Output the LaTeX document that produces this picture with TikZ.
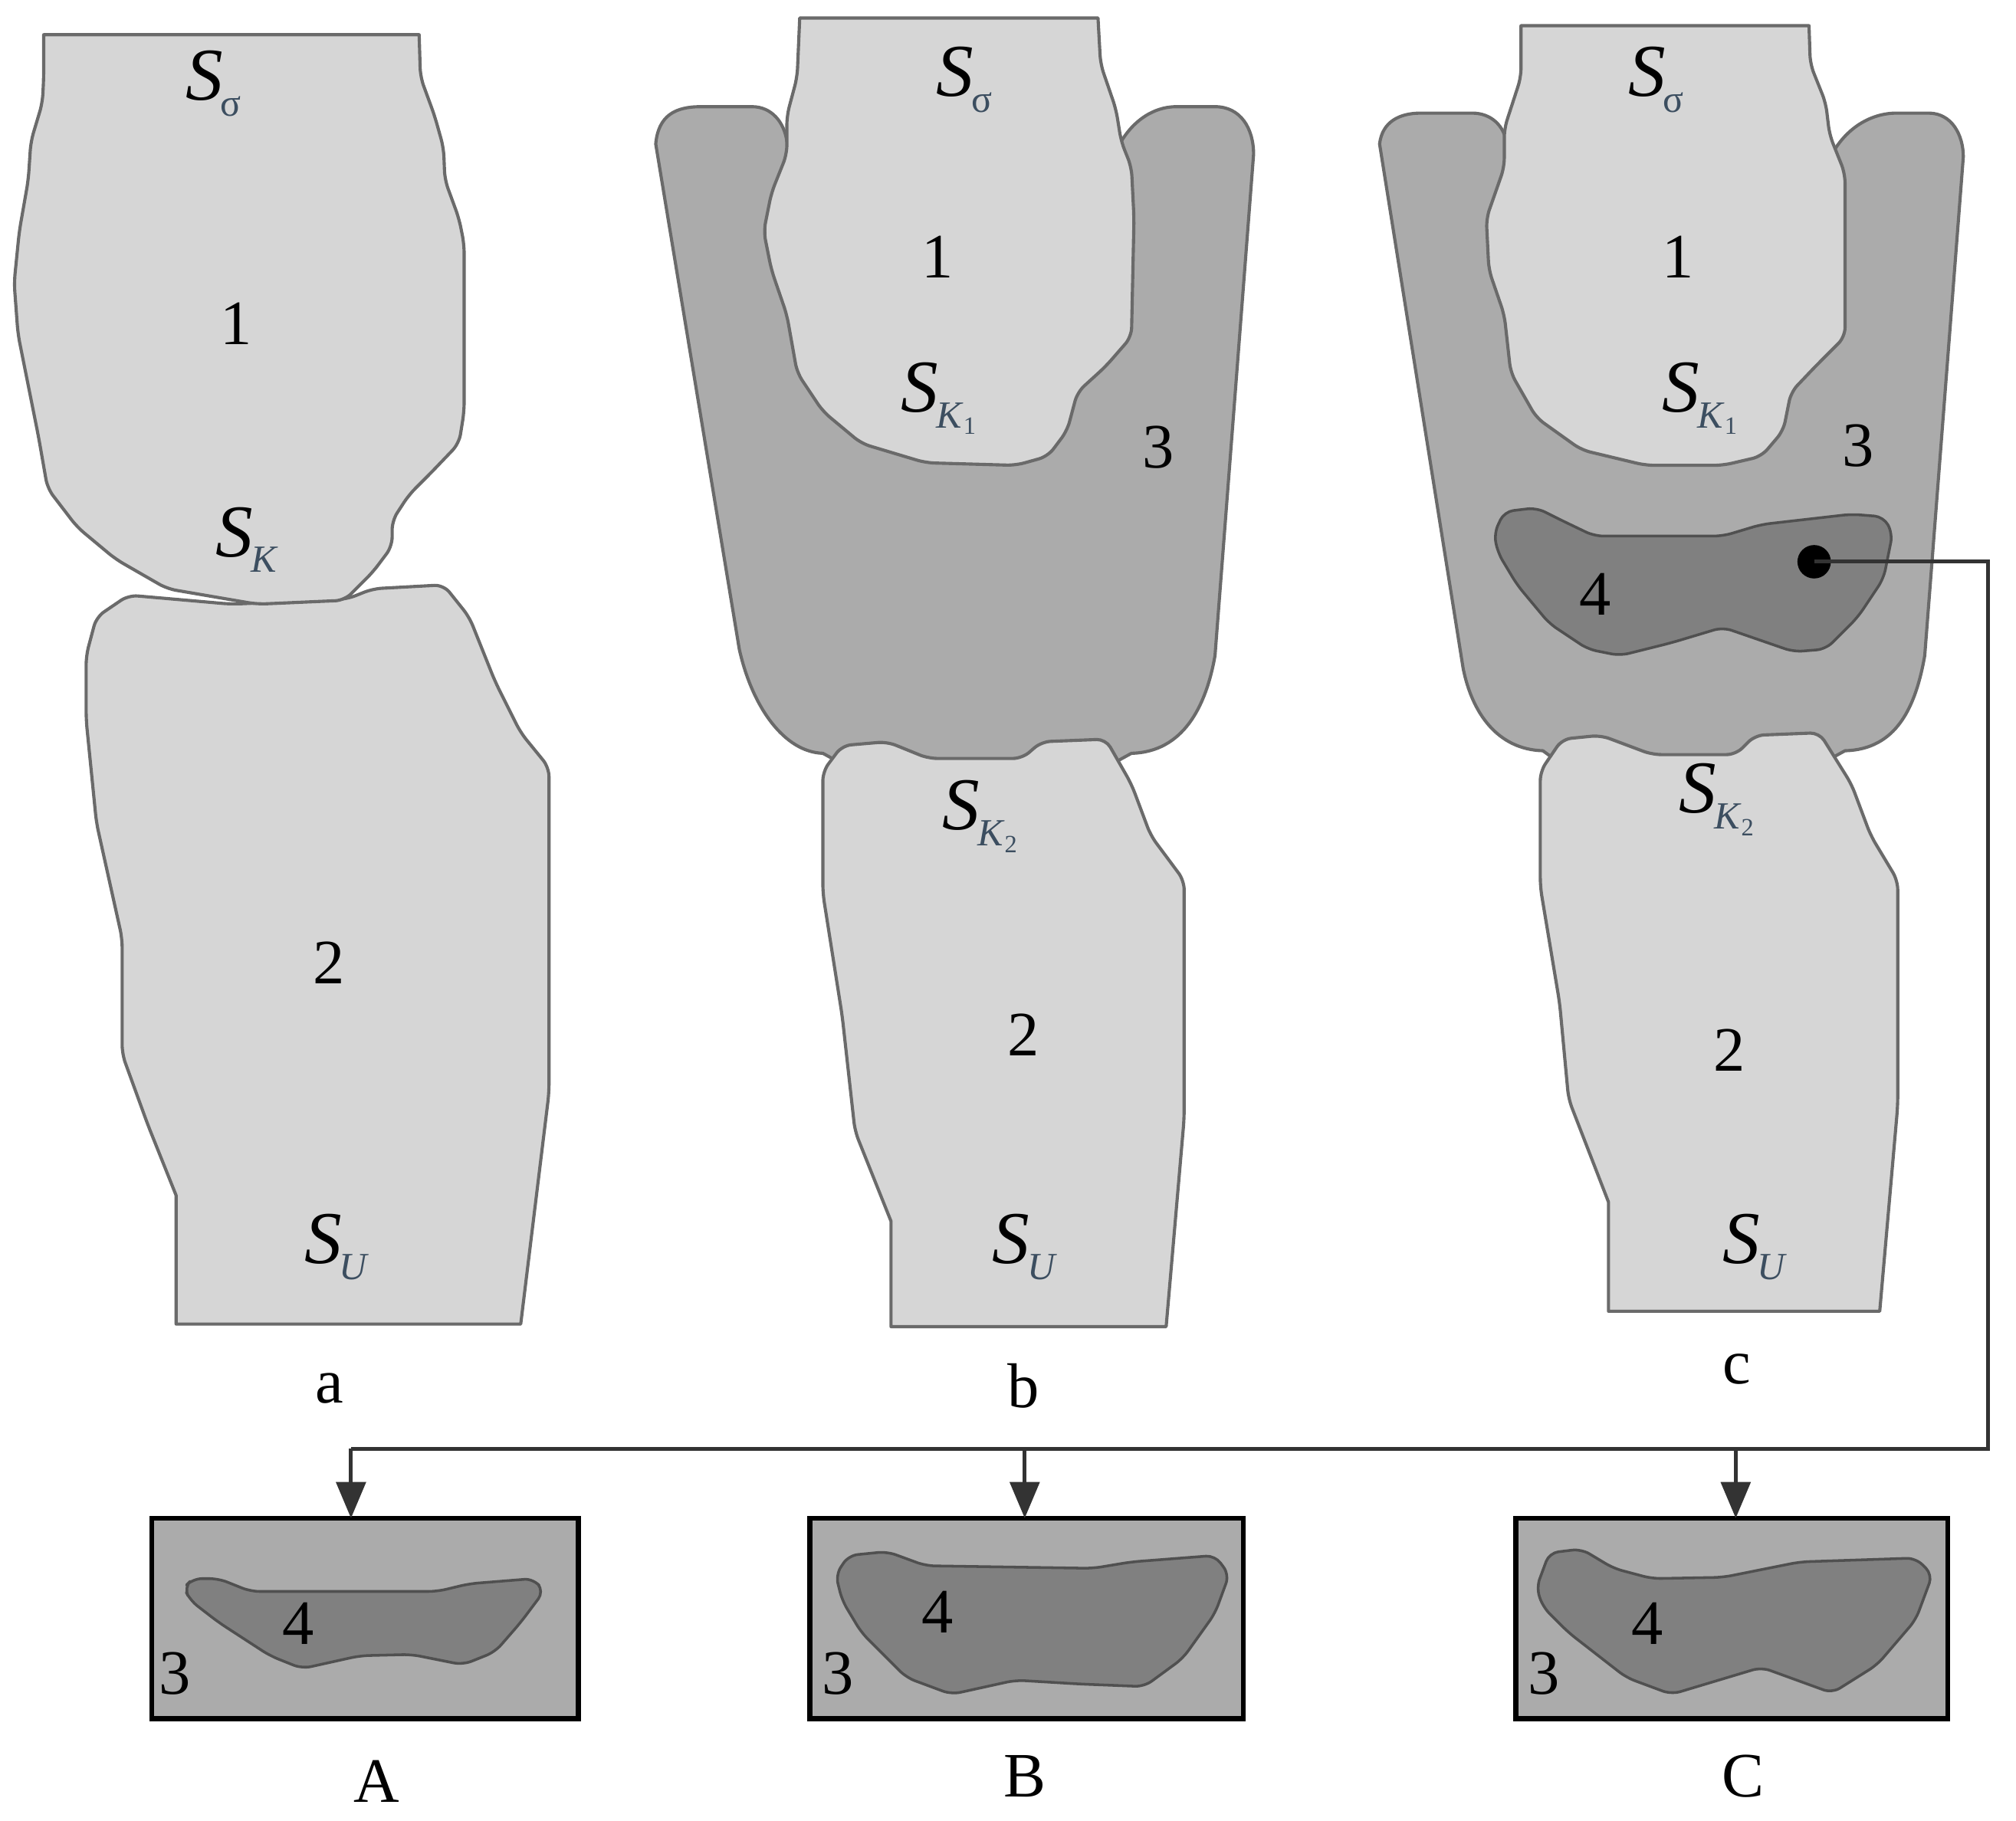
\documentclass[tikz,border=0pt]{standalone}
\usepackage{fontspec}
\setmainfont{Liberation Serif}
\usetikzlibrary{arrows.meta}
\definecolor{lightfill}{HTML}{D6D6D6}
\definecolor{midfill}{HTML}{ABABAB}
\definecolor{darkfill}{HTML}{808080}
\definecolor{edgegray}{HTML}{6A6A6A}
\definecolor{edgedark}{HTML}{505050}
\definecolor{subgray}{HTML}{3C4E60}
\newcommand{\lblS}[1]{{\fontsize{33}{33}\selectfont\itshape S}\kern-1pt\raisebox{-7pt}{\fontsize{17}{17}\selectfont\color{subgray}#1}}
\newcommand{\subK}[1]{\textit{K}\raisebox{-3pt}{\fontsize{11}{11}\selectfont #1}}
\tikzset{
  x=0.02cm,y=-0.02cm,
  part/.style={draw=edgegray,line width=1.4pt,fill=lightfill,line join=round,rounded corners=4pt},
  shell/.style={draw=edgegray,line width=1.4pt,fill=midfill,line join=round},
  core/.style={draw=edgedark,line width=1.2pt,fill=darkfill,line join=round,rounded corners=4pt},
  crop/.style={draw=black,line width=2.2pt,fill=midfill,inner sep=0pt,outer sep=0pt,anchor=north west},
  num/.style={inner sep=0pt,font=\fontsize{28}{28}\selectfont},
  lettr/.style={inner sep=0pt,font=\fontsize{28}{28}\selectfont},
  symb/.style={inner sep=0pt},
  wire/.style={draw=black!80,line width=1.7pt},
  feed/.style={wire,-{Triangle[length=16pt,width=13pt]}}
}
\begin{document}
\begin{tikzpicture}
\useasboundingbox (0,0) rectangle (1568,1416.5);
% --- a ---
\path[part] (100,463) -- (180,470) -- (270,466) -- (290,458) -- (345,455) -- (365,480) -- (385,530) -- (405,570) -- (427,597) -- (427,850) [sharp corners] -- (405,1030) -- (137,1030) -- (137,930) [rounded corners=4pt] -- (115,875) -- (95,820) -- (95,730) -- (75,640) -- (67,560) -- (67,510) -- (75,480) -- cycle;
\path[part,sharp corners] (34,27) -- (326,27) [rounded corners=4pt] -- (327,60) -- (338,90) -- (345,115) -- (346,140) -- (357,170) -- (361,190) -- (361,320) -- (357,345) -- (335,368) -- (318,385) -- (305,405) -- (305,425) -- (290,445) -- (268,467) -- (200,470) -- (130,458) -- (90,435) -- (60,410) -- (37,380) -- (30,340) -- (22,300) -- (14,260) -- (11,220) -- (15,180) -- (22,140) -- (24,110) -- (33,80) -- (34,60) [sharp corners] -- cycle;
% --- b ---
\path[shell] (510,112) .. controls (512,90) and (525,83) .. (545,83) -- (585,83) .. controls (600,83) and (610,95) .. (612,110) -- (865,125) .. controls (875,97) and (895,83) .. (915,83) -- (945,83) .. controls (965,83) and (975,100) .. (975,120) -- (945,510) .. controls (938,550) and (920,585) .. (880,586) -- (860,597) -- (660,597) -- (640,586) .. controls (610,585) and (585,550) .. (575,505) -- cycle;
\path[part,sharp corners] (622,14) -- (854,14) [rounded corners=4pt] -- (856,50) -- (868,85) -- (872,110) -- (880,130) -- (882,170) -- (880,262) -- (860,285) -- (838,305) -- (830,335) -- (815,355) -- (790,362) -- (720,360) -- (670,345) -- (640,320) -- (620,290) -- (612,245) -- (600,210) -- (594,180) -- (600,150) -- (612,120) -- (612,90) -- (620,60) [sharp corners] -- cycle;
\path[part] (640,600) -- (655,580) -- (690,577) -- (722,590) -- (795,590) -- (810,577) -- (860,575) -- (880,610) -- (895,650) -- (921,685) -- (921,870) [sharp corners] -- (907,1032) -- (693,1032) -- (693,950) [rounded corners=4pt] -- (665,880) -- (655,790) -- (640,695) -- cycle;
% --- c ---
\path[shell] (1073,112) .. controls (1075,95) and (1088,88) .. (1105,88) -- (1145,88) .. controls (1160,88) and (1170,98) .. (1172,112) -- (1420,130) .. controls (1432,100) and (1455,88) .. (1475,88) -- (1500,88) .. controls (1518,88) and (1527,105) .. (1527,122) -- (1497,510) .. controls (1490,550) and (1475,583) .. (1435,584) -- (1415,595) -- (1215,595) -- (1200,584) .. controls (1165,583) and (1145,555) .. (1138,520) -- cycle;
\path[part,sharp corners] (1183,20) -- (1407,20) [rounded corners=4pt] -- (1408,50) -- (1420,80) -- (1423,105) -- (1435,135) -- (1435,262) -- (1412,285) -- (1393,305) -- (1387,335) -- (1370,355) -- (1340,362) -- (1280,362) -- (1230,350) -- (1195,325) -- (1175,290) -- (1170,245) -- (1158,210) -- (1156,170) -- (1170,130) -- (1170,100) -- (1183,60) [sharp corners] -- cycle;
\path[part] (1198,600) -- (1215,575) -- (1245,572) -- (1285,587) -- (1350,587) -- (1365,572) -- (1415,570) -- (1440,610) -- (1455,650) -- (1476,685) -- (1476,860) [sharp corners] -- (1462,1020) -- (1251,1020) -- (1251,935) [rounded corners=4pt] -- (1220,855) -- (1213,780) -- (1198,690) -- cycle;
\path[core] (1162,415) -- (1170,398) -- (1195,395) -- (1215,405) -- (1240,417) -- (1340,417) -- (1370,408) -- (1440,400) -- (1465,402) -- (1472,415) -- (1465,450) -- (1445,480) -- (1420,505) -- (1395,507) -- (1340,488) -- (1300,500) -- (1260,510) -- (1235,505) -- (1205,485) -- (1180,455) -- (1165,430) -- cycle;
% --- crops ---
\node[crop,minimum width=6.64cm,minimum height=3.12cm] (boxA) at (118,1181) {};
\node[crop,minimum width=6.74cm,minimum height=3.12cm] (boxB) at (630,1181) {};
\node[crop,minimum width=6.72cm,minimum height=3.12cm] (boxC) at (1179,1181) {};
\path[core] (143,1235) -- (150,1228) -- (170,1228) -- (195,1238) -- (340,1238) -- (365,1232) -- (415,1228) -- (423,1238) -- (405,1262) -- (385,1285) -- (360,1295) -- (320,1287) -- (280,1288) -- (235,1298) -- (210,1288) -- (170,1262) -- (148,1245) -- cycle;
\path[core] (650,1225) -- (660,1210) -- (690,1207) -- (720,1218) -- (850,1220) -- (880,1215) -- (945,1210) -- (956,1225) -- (945,1255) -- (920,1290) -- (890,1312) -- (840,1310) -- (790,1307) -- (740,1318) -- (705,1305) -- (670,1270) -- (655,1245) -- cycle;
\path[core] (1195,1235) -- (1205,1208) -- (1230,1205) -- (1255,1220) -- (1285,1228) -- (1340,1227) -- (1400,1215) -- (1490,1212) -- (1503,1225) -- (1490,1260) -- (1460,1295) -- (1425,1317) -- (1370,1297) -- (1300,1318) -- (1265,1305) -- (1220,1270) -- (1200,1250) -- cycle;
% --- connector ---
\node[circle,fill=black,inner sep=0pt,minimum size=0.52cm] (probe) at (1411,437) {};
\coordinate (c1) at (1546,437);
\coordinate (c2) at (1546,1127);
\coordinate (c3) at (273,1127);
\coordinate (c4) at (797,1127);
\coordinate (c5) at (1350,1127);
\draw[wire] (probe.center) -- (c1) -- (c2) -- (c3);
\draw[feed] (c3) -- (c3 |- boxA.north);
\draw[feed] (c4) -- (c4 |- boxB.north);
\draw[feed] (c5) -- (c5 |- boxC.north);
% --- labels ---
\node[symb] (sa1) at (166,65) {\lblS{σ}};
\node[num] (na1) at (184,252) {1};
\node[symb] (sa2) at (192,420) {\lblS{\textit{K}}};
\node[num] (na2) at (256,749) {2};
\node[symb] (sa3) at (262,970) {\lblS{\textit{U}}};
\node[lettr] (la) at (256,1080) {a};
\node[symb] (sb1) at (750,62) {\lblS{σ}};
\node[num] (nb1) at (729,200) {1};
\node[symb] (sb2) at (730,310) {\lblS{\subK{1}}};
\node[num] (nb3) at (901,348) {3};
\node[symb] (sb3) at (762,635) {\lblS{\subK{2}}};
\node[num] (nb2) at (796,805) {2};
\node[symb] (sb4) at (797,970) {\lblS{\textit{U}}};
\node[lettr] (lb) at (796,1078) {b};
\node[symb] (sc1) at (1288,62) {\lblS{σ}};
\node[num] (nc1) at (1305,200) {1};
\node[symb] (sc2) at (1322,310) {\lblS{\subK{1}}};
\node[num] (nc3) at (1445,347) {3};
\node[num] (nc4) at (1241,462) {4};
\node[symb] (sc3) at (1335,622) {\lblS{\subK{2}}};
\node[num] (nc2) at (1345,817) {2};
\node[symb] (sc4) at (1365,970) {\lblS{\textit{U}}};
\node[lettr] (lc) at (1351,1065) {c};
\node[num] (nA4) at (232,1263) {4};
\node[num] (nA3) at (136,1302) {3};
\node[lettr] (lA) at (293,1386) {A};
\node[num] (nB4) at (729,1254) {4};
\node[num] (nB3) at (652,1302) {3};
\node[lettr] (lB) at (797,1382) {B};
\node[num] (nC4) at (1281,1263) {4};
\node[num] (nC3) at (1201,1302) {3};
\node[lettr] (lC) at (1356,1382) {C};
\end{tikzpicture}
\end{document}
